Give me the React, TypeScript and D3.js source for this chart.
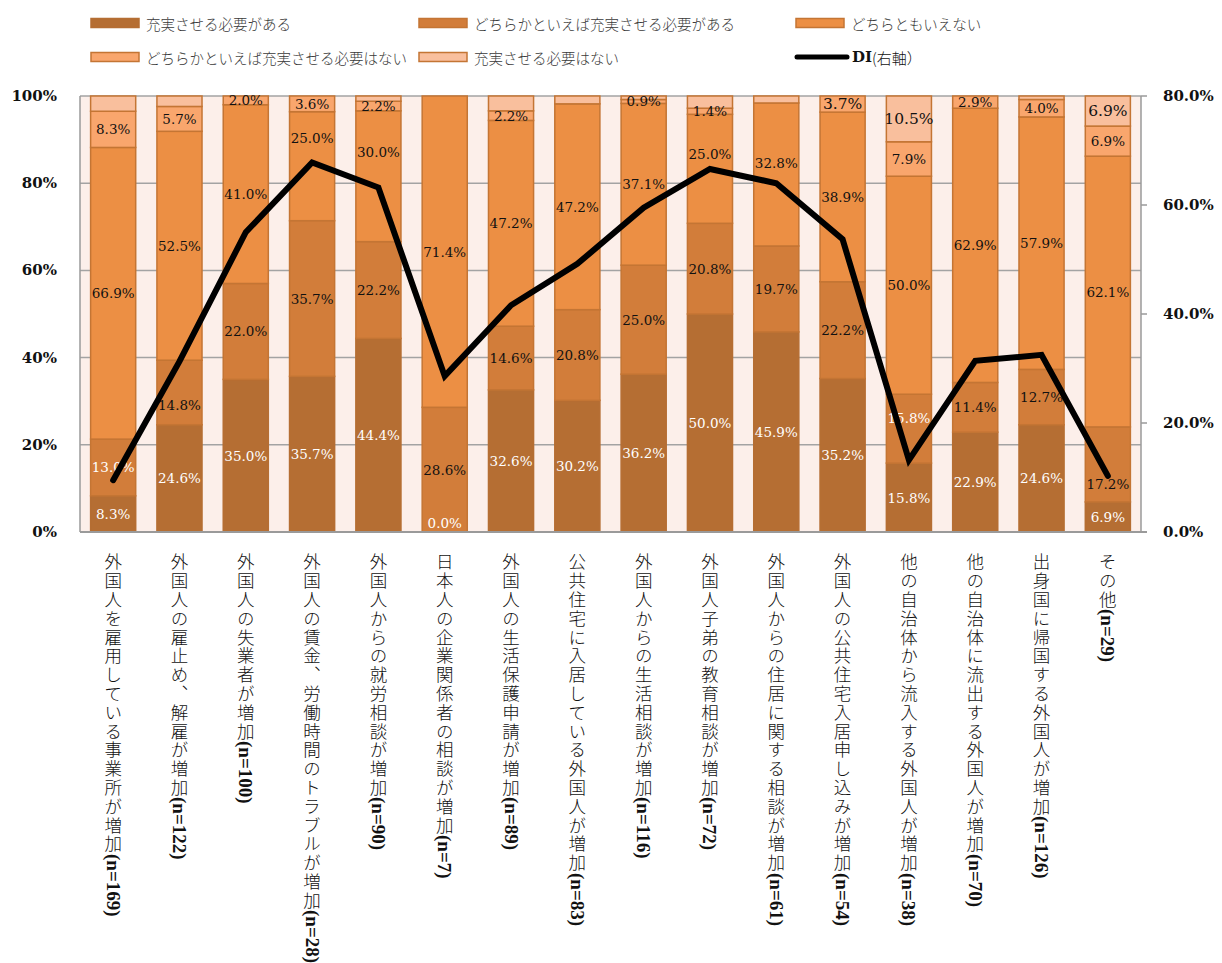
import React from 'react';
import * as d3 from 'd3';

// Survey categories (x axis) and their sample sizes
const categories = [
  '外国人を雇用している事業所が増加',
  '外国人の雇止め、解雇が増加',
  '外国人の失業者が増加',
  '外国人の賃金、労働時間のトラブルが増加',
  '外国人からの就労相談が増加',
  '日本人の企業関係者の相談が増加',
  '外国人の生活保護申請が増加',
  '公共住宅に入居している外国人が増加',
  '外国人からの生活相談が増加',
  '外国人子弟の教育相談が増加',
  '外国人からの住居に関する相談が増加',
  '外国人の公共住宅入居申し込みが増加',
  '他の自治体から流入する外国人が増加',
  '他の自治体に流出する外国人が増加',
  '出身国に帰国する外国人が増加',
  'その他',
];
const sampleSizes = [169, 122, 100, 28, 90, 7, 89, 83, 116, 72, 61, 54, 38, 70, 126, 29];

// Response shares (%)
const necessary = [8.3, 24.6, 35.0, 35.7, 44.4, 0.0, 32.6, 30.2, 36.2, 50.0, 45.9, 35.2, 15.8, 22.9, 24.6, 6.9];
const somewhatNecessary = [13.0, 14.8, 22.0, 35.7, 22.2, 28.6, 14.6, 20.8, 25.0, 20.8, 19.7, 22.2, 15.8, 11.4, 12.7, 17.2];
const neither = [66.9, 52.5, 41.0, 25.0, 30.0, 71.4, 47.2, 47.2, 37.1, 25.0, 32.8, 38.9, 50.0, 62.9, 57.9, 62.1];
const somewhatUnnecessary = [8.3, 5.7, 2.0, 3.6, 2.2, 0.0, 2.2, 0.0, 0.9, 1.4, 0.0, 3.7, 7.9, 2.9, 4.0, 6.9];
const unnecessary = [3.5, 2.4, 0.0, 0.0, 1.2, 0.0, 3.4, 1.8, 0.8, 2.8, 1.6, 0.0, 10.5, 0.0, 0.8, 6.9];
const unnecessaryLabelled = [false, false, false, false, false, false, false, false, false, false, false, false, true, false, false, true];

// DI (right axis, %)
const diValues = [9.5, 31.3, 55.0, 67.8, 63.2, 28.6, 41.6, 49.2, 59.5, 66.6, 64.0, 53.7, 13.2, 31.4, 32.5, 10.3];

const seriesNames = [
  '充実させる必要がある',
  'どちらかといえば充実させる必要がある',
  'どちらともいえない',
  'どちらかといえば充実させる必要はない',
  '充実させる必要はない',
];
const diName = 'DI';
const diSuffix = '(右軸）';

const leftTicks = [0, 20, 40, 60, 80, 100];
const rightTicks = [0, 20, 40, 60, 80];

const colors = ['#b56e33', '#d27d3a', '#ec8f44', '#f9a66d', '#f9bf9d'];
const segmentStroke = '#c47534';

const W = 1222;
const H = 963;
const plot = { left: 80, right: 1141, top: 96, bottom: 532 };

const numFont = '"DejaVu Serif", "Liberation Serif", serif';
const cjkFont = '"Noto Sans CJK JP", "Noto Sans", sans-serif';

// Hand-placed label nudges (px) so values stay clear of the DI line: "series-index" -> dy
const labelNudge: Record<string, number> = {
  '2-3': -28,
  '2-4': -24,
  '2-9': -15,
  '2-10': -11,
  '1-1': 13,
  '1-12': -11,
  '1-15': 20,
};

export default function App() {
  const x = d3
    .scaleBand<number>()
    .domain(d3.range(categories.length))
    .range([plot.left, plot.right])
    .paddingInner(0.32)
    .paddingOuter(0.16);
  const y = d3.scaleLinear().domain([0, 100]).range([plot.bottom, plot.top]);
  const yRight = d3.scaleLinear().domain([0, 80]).range([plot.bottom, plot.top]);

  const rows = categories.map((_, i) => ({
    s0: necessary[i],
    s1: somewhatNecessary[i],
    s2: neither[i],
    s3: somewhatUnnecessary[i],
    s4: unnecessary[i],
  }));
  const keys = ['s0', 's1', 's2', 's3', 's4'];
  const stacked = d3.stack<any>().keys(keys)(rows);

  const line = d3
    .line<number>()
    .x((_, i) => (x(i) as number) + x.bandwidth() / 2)
    .y((d) => yRight(d));

  const whiteSecond = new Set([0, 12]);

  const labels: React.ReactNode[] = [];
  stacked.forEach((layer, k) => {
    layer.forEach((seg, i) => {
      const v = seg[1] - seg[0];
      let show = false;
      if (k <= 2) show = true;
      else if (k === 3) show = v > 0;
      else show = unnecessaryLabelled[i];
      if (!show) return;
      const y0 = y(Math.min(seg[0], 100));
      const y1 = y(Math.min(seg[1], 100));
      let cy = (y0 + y1) / 2;
      if (v === 0) cy = y0 - 9;
      cy += labelNudge[`${k}-${i}`] || 0;
      const white = k === 0 || (k === 1 && whiteSecond.has(i));
      const big = k === 4 || (k === 3 && i === 11);
      labels.push(
        <text
          key={`l${k}-${i}`}
          x={(x(i) as number) + x.bandwidth() / 2}
          y={cy}
          textAnchor="middle"
          dominantBaseline="central"
          fontFamily={numFont}
          fontSize={big ? 15.5 : 13.5}
          fill={white ? '#ffffff' : '#111111'}
        >
          {v.toFixed(1)}%
        </text>
      );
    });
  });

  const legendCols = [90, 418, 795];
  const legendRows = [23, 57];
  const legendItems = [
    { col: 0, row: 0, s: 0 },
    { col: 1, row: 0, s: 1 },
    { col: 2, row: 0, s: 2 },
    { col: 0, row: 1, s: 3 },
    { col: 1, row: 1, s: 4 },
  ];

  return (
    <svg
      width={W}
      height={H}
      viewBox={`0 0 ${W} ${H}`}
      style={{ position: 'absolute', left: 0, top: 0, background: '#ffffff' }}
    >
      {/* Legend */}
      {legendItems.map((it) => (
        <g key={`lg${it.s}`}>
          <rect
            x={legendCols[it.col] + 1}
            y={legendRows[it.row] - 4.5}
            width={48}
            height={9}
            fill={colors[it.s]}
            stroke={it.s === 0 ? colors[0] : segmentStroke}
            strokeWidth={1.5}
          />
          <text
            x={legendCols[it.col] + 56}
            y={legendRows[it.row]}
            dominantBaseline="central"
            fontFamily={cjkFont}
            fontWeight={300}
            fontSize={14.5}
            fill="#3a3a3a"
          >
            {seriesNames[it.s]}
          </text>
        </g>
      ))}
      <line
        x1={legendCols[2] + 2}
        x2={legendCols[2] + 52}
        y1={legendRows[1]}
        y2={legendRows[1]}
        stroke="#000"
        strokeWidth={5}
        strokeLinecap="round"
      />
      <text x={legendCols[2] + 57} y={legendRows[1]} dominantBaseline="central" fontSize={15} fill="#111">
        <tspan fontFamily={numFont} fontWeight="bold">{diName}</tspan>
        <tspan fontFamily={cjkFont} fontWeight={300}>{diSuffix}</tspan>
      </text>

      {/* Plot background */}
      <rect x={plot.left} y={plot.top} width={plot.right - plot.left} height={plot.bottom - plot.top} fill="#fcefea" />

      {/* Gridlines */}
      {leftTicks.map((t) => (
        <line key={`g${t}`} x1={plot.left} x2={plot.right} y1={y(t)} y2={y(t)} stroke="#a3a3a3" strokeWidth={1.5} />
      ))}

      {/* Stacked bars */}
      {stacked.map((layer, k) => (
        <g key={`s${k}`}>
          {layer.map((seg, i) => {
            const v = seg[1] - seg[0];
            if (v <= 0) return null;
            const y0 = y(Math.min(seg[0], 100));
            const y1 = y(Math.min(seg[1], 100));
            return (
              <rect
                key={`r${k}-${i}`}
                x={x(i) as number}
                y={y1}
                width={x.bandwidth()}
                height={y0 - y1}
                fill={colors[k]}
                stroke={k === 0 ? colors[0] : segmentStroke}
                strokeWidth={1.5}
              />
            );
          })}
        </g>
      ))}

      {/* Axes lines */}
      <line x1={plot.left} x2={plot.left} y1={plot.top} y2={plot.bottom} stroke="#9a9a9a" strokeWidth={1.5} />
      <line x1={plot.right} x2={plot.right} y1={plot.top} y2={plot.bottom} stroke="#9a9a9a" strokeWidth={1.5} />
      <line x1={plot.left} x2={plot.right + 6} y1={plot.bottom} y2={plot.bottom} stroke="#9a9a9a" strokeWidth={2} />
      {rightTicks.map((t) => (
        <line key={`rt${t}`} x1={plot.right} x2={plot.right + 6} y1={yRight(t)} y2={yRight(t)} stroke="#9a9a9a" strokeWidth={1.5} />
      ))}

      {/* Segment value labels */}
      {labels}

      {/* DI line */}
      <path d={line(diValues) || ''} fill="none" stroke="#000" strokeWidth={6} strokeLinejoin="miter" strokeLinecap="round" />

      {/* Left axis labels */}
      {leftTicks.map((t) => (
        <text
          key={`lt${t}`}
          x={57}
          y={y(t)}
          textAnchor="end"
          dominantBaseline="central"
          fontFamily={numFont}
          fontWeight="bold"
          fontSize={15}
          fill="#111"
        >
          {t}%
        </text>
      ))}

      {/* Right axis labels */}
      {rightTicks.map((t) => (
        <text
          key={`rl${t}`}
          x={1163}
          y={yRight(t)}
          textAnchor="start"
          dominantBaseline="central"
          fontFamily={numFont}
          fontWeight="bold"
          fontSize={15}
          fill="#111"
        >
          {t.toFixed(1)}%
        </text>
      ))}

      {/* Category labels, written vertically */}
      {categories.map((c, i) => (
        <text
          key={`c${i}`}
          x={(x(i) as number) + x.bandwidth() / 2}
          y={553}
          style={{ writingMode: 'vertical-rl', letterSpacing: '1.3px' }}
          fontFamily={cjkFont}
          fontWeight={300}
          fontSize={17.5}
          fill="#111"
        >
          {c}
          <tspan fontFamily='"Liberation Serif", serif' fontWeight="bold" fontSize={19} style={{ letterSpacing: '0px' }}>
            (n={sampleSizes[i]})
          </tspan>
        </text>
      ))}
    </svg>
  );
}
